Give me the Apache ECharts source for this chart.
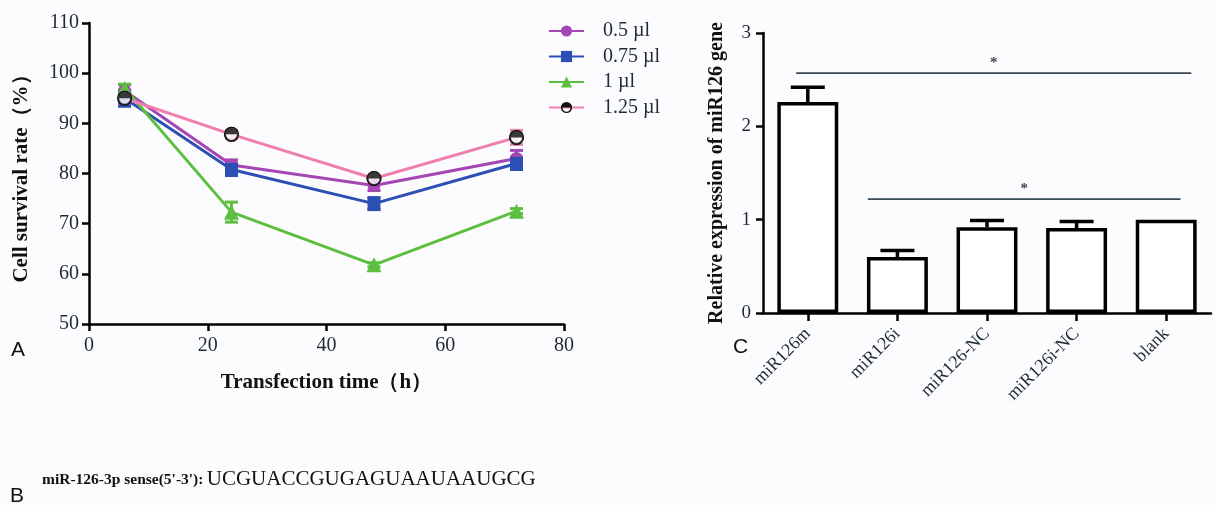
<!DOCTYPE html>
<html>
<head>
<meta charset="utf-8">
<script src="https://cdn.jsdelivr.net/npm/echarts@6/dist/echarts.min.js"></script>
<style>
html,body{margin:0;padding:0;background:#fcfcfe;}
#c{width:1215px;height:505px;}
</style>
</head>
<body>
<div id="c"></div>
<script>
// ---- Panel A data ----
const timesH = [6, 24, 48, 72];
const seriesNames = ['0.5 µl', '0.75 µl', '1 µl', '1.25 µl'];
const val05 = [96.5, 81.7, 77.6, 83.0];
const err05 = [1.2, 1.0, 1.0, 1.6];
const val075 = [95.0, 80.8, 74.0, 82.0];
const err075 = [1.6, 1.2, 1.2, 1.2];
const val1 = [97.0, 72.3, 61.8, 72.5];
const err1 = [0.8, 2.0, 0.4, 0.5];
const val125 = [95.0, 87.8, 79.0, 87.2];
const err125 = [1.0, 0.8, 0.4, 1.4];
const yTicksA = [50, 110, 10];
const xTicksA = [0, 80, 20];

// ---- Panel C data ----
const groups = ['miR126m', 'miR126i', 'miR126-NC', 'miR126i-NC', 'blank'];
const relExpr = [2.26, 0.60, 0.92, 0.91, 1.00];
const relErr = [0.16, 0.07, 0.07, 0.07, 0];
// [first group, last group, height, left overhang (bands), right overhang (bands)]
const sigBrackets = [[0, 4, 2.57, 0.13, 0.28], [1, 4, 1.22, 0.33, 0.16]];

const colors = ['#a446b4', '#2d4fb4', '#5cbf3f', '#ee80ae'];
const txt = '#1c2b38';
const serif = '"Liberation Serif","DejaVu Serif",serif';

// top half disc + ring
const halfRing = 'path://M0,10 A10,10 0 0 1 20,10 L17.4,10 A7.4,7.4 0 0 0 2.6,10 Z M0,10 A10,10 0 0 0 20,10 L17.4,10 A7.4,7.4 0 0 1 2.6,10 Z M2.6,10 A7.4,7.4 0 0 1 17.4,10 Z';

const valsA = [val05, val075, val1, val125];
const errsA = [err05, err075, err1, err125];
const symbols = ['circle', 'rect', 'triangle', halfRing];

function pairs(v){ return timesH.map((t,i)=>[t, v[i]]); }
function errData(v,e){ return timesH.map((t,i)=>[t, v[i]-e[i], v[i]+e[i]]); }

function errRender(color, capW){
  return function(params, api){
    const x = api.value(0);
    const lo = api.coord([x, api.value(1)]);
    const hi = api.coord([x, api.value(2)]);
    const st = {stroke: color, lineWidth: 3};
    return {type:'group', children:[
      {type:'line', shape:{x1:lo[0], y1:lo[1], x2:hi[0], y2:hi[1]}, style:st},
      {type:'line', shape:{x1:lo[0]-capW/2, y1:lo[1], x2:lo[0]+capW/2, y2:lo[1]}, style:st},
      {type:'line', shape:{x1:hi[0]-capW/2, y1:hi[1], x2:hi[0]+capW/2, y2:hi[1]}, style:st}
    ]};
  };
}

const series = [];
valsA.forEach((v, k) => {
  series.push({
    type:'custom', xAxisIndex:0, yAxisIndex:0, z:1, silent:true,
    renderItem: errRender(colors[k], 13),
    data: errData(v, errsA[k])
  });
});
valsA.forEach((v, k) => {
  series.push({
    name: seriesNames[k], type:'line', xAxisIndex:0, yAxisIndex:0, z: 2,
    data: pairs(v),
    symbol: symbols[k], symbolSize: k===2 ? 15 : (k===3 ? 15 : 13),
    lineStyle:{color: colors[k], width: 3},
    itemStyle:{color: k===3 ? '#111' : colors[k]},
    animation:false
  });
});
series.push({
  type:'scatter', xAxisIndex:0, yAxisIndex:0, z:3, silent:true,
  data: pairs(val125), symbol:'circle', symbolSize: 13,
  itemStyle:{color:'#ffffff'}
});
series.push({
  type:'scatter', xAxisIndex:0, yAxisIndex:0, z:4, silent:true,
  data: pairs(val125), symbol: halfRing, symbolSize: 15,
  itemStyle:{color:'#111'}
});

// Panel C
series.push({
  type:'bar', xAxisIndex:1, yAxisIndex:1, data: relExpr, barWidth:'68%',
  itemStyle:{color:'#ffffff', borderColor:'#000', borderWidth:3.5},
  animation:false
});
series.push({
  type:'custom', xAxisIndex:1, yAxisIndex:1, z:3, silent:true,
  data: groups.map((g,i)=>[i, relExpr[i], relExpr[i]+relErr[i]]).filter((d,i)=>relErr[i]>0),
  renderItem: function(params, api){
    const x = api.value(0);
    const lo = api.coord([x, api.value(1)]);
    const hi = api.coord([x, api.value(2)]);
    const st = {stroke:'#000', lineWidth:3.5};
    return {type:'group', children:[
      {type:'line', shape:{x1:lo[0], y1:lo[1], x2:hi[0], y2:hi[1]}, style:st},
      {type:'line', shape:{x1:hi[0]-17, y1:hi[1], x2:hi[0]+17, y2:hi[1]}, style:st}
    ]};
  }
});
series.push({
  type:'custom', xAxisIndex:1, yAxisIndex:1, z:3, silent:true,
  data: sigBrackets,
  renderItem: function(params, api){
    const band = api.size([1, 0])[0];
    const a = api.coord([api.value(0), api.value(2)]);
    const b = api.coord([api.value(1), api.value(2)]);
    const x1 = a[0] - api.value(3) * band, x2 = b[0] + api.value(4) * band;
    return {type:'group', children:[
      {type:'line', shape:{x1:x1, y1:a[1], x2:x2, y2:a[1]}, style:{stroke:'#3a4a52', lineWidth:1.6}},
      {type:'text', x:(x1+x2)/2, y:a[1]-3, style:{text:'*', fill:'#3a4a52', font:'bold 15px ' + serif, align:'center', verticalAlign:'bottom'}}
    ]};
  }
});

const chart = echarts.init(document.getElementById('c'), null, {renderer:'canvas'});
chart.setOption({
  backgroundColor:'#fcfcfe',
  animation:false,
  grid:[
    {left:89, top:23, width:475, height:301},
    {left:763, top:33, width:448, height:280}
  ],
  legend:{
    data: seriesNames, orient:'vertical', left:543, top:16,
    itemWidth:35, itemHeight:14, itemGap:5.5,
    textStyle:{fontFamily:serif, fontSize:20, color:txt, padding:[0,0,0,14]}
  },
  xAxis:[
    {gridIndex:0, type:'value', min:xTicksA[0], max:xTicksA[1], interval:xTicksA[2],
     axisLine:{lineStyle:{color:'#000', width:2.5}},
     axisTick:{show:true, length:7, lineStyle:{width:2.5, color:'#000'}},
     axisLabel:{fontFamily:serif, fontSize:20, color:txt, margin:12},
     splitLine:{show:false},
     name:'Transfection time（h）', nameLocation:'middle', nameGap:48,
     nameTextStyle:{fontFamily:serif, fontSize:21, fontWeight:'bold', color:'#111'}},
    {gridIndex:1, type:'category', data: groups,
     axisLine:{lineStyle:{color:'#000', width:2.5}},
     axisTick:{show:true, alignWithLabel:true, length:8, lineStyle:{width:2.5, color:'#000'}},
     axisLabel:{fontFamily:serif, fontSize:18, color:txt, rotate:45, margin:18, interval:0}}
  ],
  yAxis:[
    {gridIndex:0, type:'value', min:yTicksA[0], max:yTicksA[1], interval:yTicksA[2],
     axisLine:{show:true, lineStyle:{color:'#000', width:2.5}},
     axisTick:{show:true, length:7, lineStyle:{width:2.5, color:'#000'}},
     axisLabel:{fontFamily:serif, fontSize:20, color:txt, margin:10},
     splitLine:{show:false},
     name:'Cell survival rate（%）', nameLocation:'middle', nameGap:57,
     nameTextStyle:{fontFamily:serif, fontSize:21, fontWeight:'bold', color:'#111', padding:[0,0,0,0]}},
    {gridIndex:1, type:'value', min:0, max:3, interval:1,
     axisLine:{show:true, lineStyle:{color:'#000', width:2.5}},
     axisTick:{show:true, length:7, lineStyle:{width:2.5, color:'#000'}},
     axisLabel:{fontFamily:serif, fontSize:19, color:txt, margin:12},
     splitLine:{show:false},
     name:'Relative expression of miR126 gene', nameLocation:'middle', nameGap:36,
     nameTextStyle:{fontFamily:serif, fontSize:20, fontWeight:'bold', color:'#111'}}
  ],
  graphic:[
    {type:'text', left:11, top:340, style:{text:'A', font:'21px "Liberation Sans",Arial,sans-serif', fill:'#111'}},
    {type:'text', left:10, top:486, style:{text:'B', font:'21px "Liberation Sans",Arial,sans-serif', fill:'#111'}},
    {type:'text', left:733, top:337, style:{text:'C', font:'21px "Liberation Sans",Arial,sans-serif', fill:'#111'}},
    {type:'text', left:42, top:469, style:{
      text:'{b|miR-126-3p sense(5\'-3\'):} {n|UCGUACCGUGAGUAAUAAUGCG}',
      rich:{
        b:{font:'bold 15.5px ' + serif, fill:'#111'},
        n:{font:'21px ' + serif, fill:'#111'}
      }
    }}
  ],
  series: series
});
</script>
</body>
</html>
